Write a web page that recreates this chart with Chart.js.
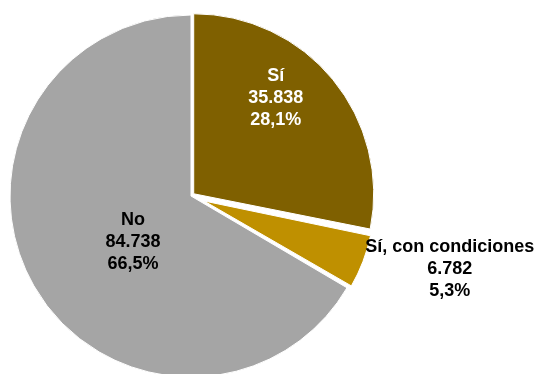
<!DOCTYPE html>
<html lang="es">
<head>
<meta charset="utf-8">
<script src="https://cdn.jsdelivr.net/npm/chart.js@4/dist/chart.umd.min.js"></script>
<style>
  html, body { margin: 0; padding: 0; background: #fff; }
  #grafico { display: block; }
</style>
</head>
<body>
<canvas id="grafico" width="538" height="374"></canvas>
<script>
// datos del gráfico
const categorias = ["Sí", "Sí, con condiciones", "No"];
const valores = [35838, 6782, 84738];
const colores = ["#7F6000", "#BF9000", "#A5A5A5"];
const coloresTexto = ["#ffffff", "#000000", "#000000"];

// desplazamiento de cada sector (Chart.js traslada offset / 4 px)
const desplazamientos = [14, 56, 0];
// radio final de cada sector, en px
const radios = [180, 170, 181];
// posición de las etiquetas: giro respecto a la bisectriz (grados) y fracción del radio
const posEtiquetas = [[-10, 0.70], [-5.3, 1.5], [-8.9, 0.41]];

// 35838 -> "35.838"
function miles(n) {
    return String(n).replace(/\B(?=(\d{3})+(?!\d))/g, ".");
}

// 28.14 -> "28,1%"
function porcentaje(v, total) {
    return (v / total * 100).toFixed(1).replace(".", ",") + "%";
}

// ajusta el radio de los sectores separados
const radioSectores = {
    id: 'radioSectores',
    beforeDatasetsDraw(chart) {
        const arcos = chart.getDatasetMeta(0).data;
        arcos.forEach((arco, i) => {
            const offset = desplazamientos[i] / 4;
            const fix = 1 - Math.sin(Math.min(Math.PI, arco.circumference || 0));
            arco.outerRadius = radios[i] - offset * fix;
        });
    }
};

// etiquetas: categoría, valor y porcentaje
const etiquetas = {
    id: 'etiquetas',
    afterDatasetsDraw(chart) {
        const ctx = chart.ctx;
        const arcos = chart.getDatasetMeta(0).data;
        const total = valores.reduce((a, b) => a + b, 0);
        ctx.save();
        ctx.font = "bold 18px 'Liberation Sans', Arial, sans-serif";
        ctx.textAlign = "center";
        ctx.textBaseline = "middle";
        arcos.forEach((arco, i) => {
            const medio = (arco.startAngle + arco.endAngle) / 2;
            const tras = desplazamientos[i] / 4;
            const cx = arco.x + Math.cos(medio) * tras;
            const cy = arco.y + Math.sin(medio) * tras;
            const ang = medio + posEtiquetas[i][0] * Math.PI / 180;
            const dist = radios[i] * posEtiquetas[i][1];
            const x = cx + Math.cos(ang) * dist;
            const y = cy + Math.sin(ang) * dist;
            const lineas = [categorias[i], miles(valores[i]), porcentaje(valores[i], total)];
            ctx.fillStyle = coloresTexto[i];
            lineas.forEach((t, k) => {
                ctx.fillText(t, x, y + (k - 1) * 22);
            });
        });
        ctx.restore();
    }
};

const ctx = document.getElementById("grafico").getContext("2d");
new Chart(ctx, {
    type: 'pie',
    data: {
        labels: categorias,
        datasets: [{
            data: valores,
            backgroundColor: colores,
            borderColor: "#ffffff",
            borderWidth: 1,
            offset: desplazamientos,
            clip: false
        }]
    },
    options: {
        responsive: false,
        animation: false,
        radius: 181,
        layout: {
            padding: { left: 0, right: 156, top: 18, bottom: 0 }
        },
        plugins: {
            legend: { display: false },
            tooltip: { enabled: false }
        }
    },
    plugins: [radioSectores, etiquetas]
});
</script>
</body>
</html>
